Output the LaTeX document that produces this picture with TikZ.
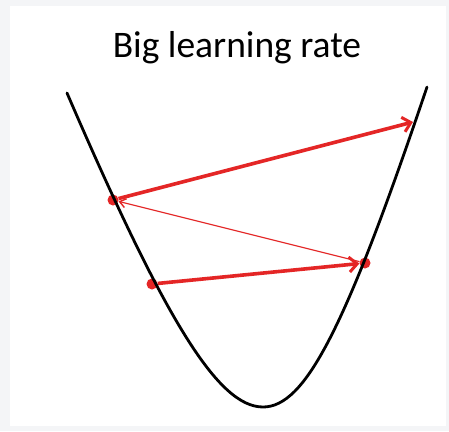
\documentclass[tikz,border=0pt]{standalone}
\usepackage{fontspec}
\setmainfont{Carlito}
\usetikzlibrary{arrows.meta}
\definecolor{stepred}{RGB}{228,38,38}
\definecolor{framegray}{RGB}{244,245,247}

\begin{document}
\begin{tikzpicture}[
  x=1pt,y=-1pt,
  title/.style={font=\fontsize{37.5}{44}\selectfont,anchor=base},
  dot/.style={circle,fill=stepred,inner sep=0pt,minimum size=11pt},
  jump/.style={stepred,line width=3.6pt,-{Straight Barb[length=8pt,width=15pt,line width=3pt]}},
  back/.style={stepred,line width=1.1pt,-{Straight Barb[length=6pt,width=9pt,line width=1.4pt]}},
  loss/.style={line width=2.8pt,line cap=round}
]
% frame
\fill[framegray] (0,0) rectangle (449,431);
\fill[white] (10,6) rectangle (446,426);

\node[title] (head) at (237,57) {Big learning rate};

% steps of gradient descent
\node[dot] (p1) at (152,284) {};
\node[dot] (p2) at (365,263) {};
\node[dot] (p3) at (113,200) {};
\coordinate (top) at (413,122);
\draw[jump] (p1) -- (p2);
\draw[back] (p2) -- (p3);
\draw[jump] (p3) -- (top);

% loss curve
\draw[loss] (67,93) .. controls (165,320) and (218,407) .. (263,407)
  .. controls (305,407) and (345,330) .. (427,87);
\end{tikzpicture}
\end{document}
